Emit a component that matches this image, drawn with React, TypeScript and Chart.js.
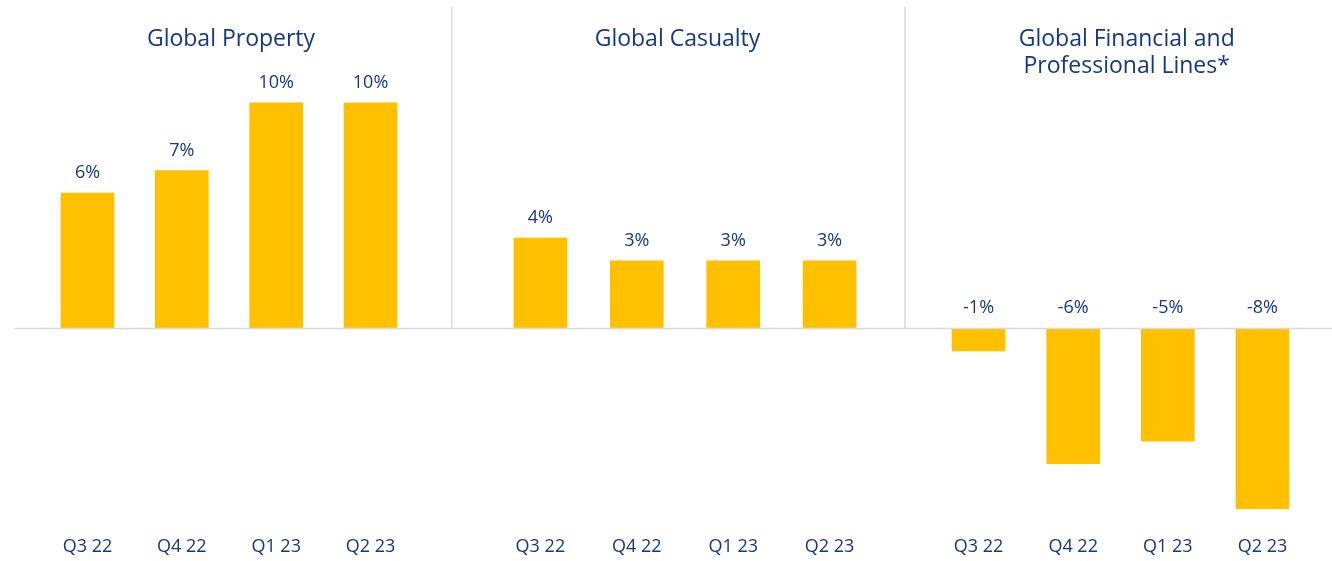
import React, { useEffect, useRef } from "react";
import { Chart, registerables } from "chart.js";

Chart.register(...registerables);

const quarters = ["Q3 22", "Q4 22", "Q1 23", "Q2 23"];
const propertyValues = [6, 7, 10, 10];
const casualtyValues = [4, 3, 3, 3];
const finProValues = [-1, -6, -5, -8];
const panelTitles: (string | string[])[] = [
  "Global Property",
  "Global Casualty",
  ["Global Financial and", "Professional Lines*"],
];
const panelValues = [propertyValues, casualtyValues, finProValues];

const NAVY = "#143984";
const GOLD = "#FFC000";
const RULE = "#D9D9D9";
const FONT = "'Open Sans', 'Noto Sans', sans-serif";

type Layout = {
  left: number;
  width: number;
  pl: number;
  pr: number;
  yPos: "left" | "right";
  yW: number;
  zeroFrom: number;
  sepX: number | null;
};

const layouts: Layout[] = [
  { left: 0, width: 450, pl: 40.3, pr: 28.3, yPos: "right", yW: 4, zeroFrom: 15, sepX: null },
  { left: 450, width: 455, pl: 27.2, pr: 27.2, yPos: "left", yW: 15, zeroFrom: 0, sepX: 1.7 },
  { left: 904, width: 428, pl: 27.2, pr: 9.8, yPos: "right", yW: 12.4, zeroFrom: 0, sepX: 1 },
];

const H = 561;
const Y_MIN = -8.497;
const Y_MAX = 10.572;
const TITLE_SIZE = 23;
const TITLE_LH = 27.6;
const TITLE_TOP = 25.3;
const AREA_TOP = 90;

function Panel({ idx }: { idx: number }) {
  const ref = useRef<HTMLCanvasElement | null>(null);
  const lay = layouts[idx];
  useEffect(() => {
    if (!ref.current) return;
    const title = panelTitles[idx];
    const lines = Array.isArray(title) ? title.length : 1;
    const decor = {
      id: "decor" + idx,
      afterDatasetsDraw(chart: any) {
        const ctx = chart.ctx;
        const y = chart.scales.y;
        const zy = y.getPixelForValue(0);
        ctx.save();
        ctx.strokeStyle = RULE;
        ctx.lineWidth = 1.5;
        ctx.beginPath();
        ctx.moveTo(lay.zeroFrom, zy);
        ctx.lineTo(chart.width, zy);
        ctx.stroke();
        if (lay.sepX !== null) {
          ctx.beginPath();
          ctx.moveTo(lay.sepX, 7);
          ctx.lineTo(lay.sepX, zy);
          ctx.stroke();
        }
        const meta = chart.getDatasetMeta(0);
        const vals = chart.data.datasets[0].data as number[];
        ctx.fillStyle = NAVY;
        ctx.font = `18px ${FONT}`;
        ctx.textAlign = "center";
        ctx.textBaseline = "alphabetic";
        meta.data.forEach((bar: any, i: number) => {
          const v = vals[i];
          const top = v >= 0 ? bar.y : bar.base;
          ctx.fillText(`${v}%`, bar.x, top - 15);
        });
        ctx.restore();
      },
    };
    const chart = new Chart(ref.current, {
      type: "bar",
      data: {
        labels: quarters,
        datasets: [
          {
            data: panelValues[idx],
            backgroundColor: GOLD,
            borderWidth: 0,
            barThickness: 53,
          },
        ],
      },
      options: {
        animation: false,
        responsive: false,
        layout: { padding: { left: lay.pl, right: lay.pr, top: 0, bottom: 0 } },
        plugins: {
          legend: { display: false },
          tooltip: { enabled: false },
          title: {
            display: true,
            text: title as any,
            color: NAVY,
            font: { family: FONT, size: TITLE_SIZE, weight: "normal", lineHeight: TITLE_LH / TITLE_SIZE },
            padding: { top: TITLE_TOP, bottom: AREA_TOP - TITLE_TOP - lines * TITLE_LH },
          },
        },
        scales: {
          x: {
            grid: { display: false, drawTicks: false },
            border: { display: false },
            ticks: { color: NAVY, font: { family: FONT, size: 18 }, padding: 16.2 },
            afterFit: (s: any) => {
              s.height = 41;
            },
          },
          y: {
            position: lay.yPos,
            min: Y_MIN,
            max: Y_MAX,
            grid: { display: false, drawTicks: false },
            border: { display: false },
            ticks: { display: false },
            afterFit: (s: any) => {
              s.width = lay.yW;
            },
          },
        },
      },
      plugins: [decor],
    });
    return () => chart.destroy();
  }, [idx]);
  return (
    <canvas
      ref={ref}
      width={lay.width}
      height={H}
      style={{ position: "absolute", left: lay.left, top: 0, width: lay.width, height: H }}
    />
  );
}

export default function App() {
  return (
    <div
      style={{
        position: "fixed",
        left: 0,
        top: 0,
        width: 1332,
        height: H,
        background: "#fff",
        overflow: "hidden",
      }}
    >
      {layouts.map((_, i) => (
        <Panel key={i} idx={i} />
      ))}
    </div>
  );
}
